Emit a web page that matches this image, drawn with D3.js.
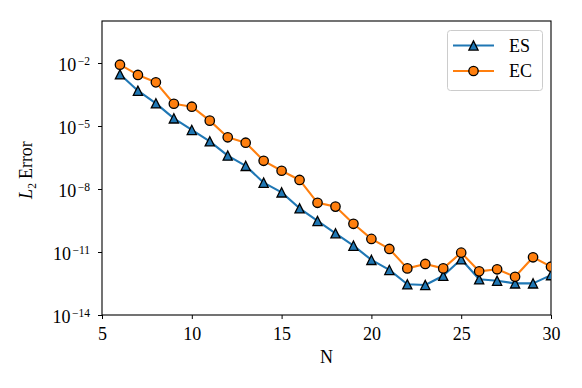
<!DOCTYPE html>
<html>
<head>
<meta charset="utf-8">
<script src="https://cdn.jsdelivr.net/npm/d3@7"></script>
<style>
  html, body { margin: 0; padding: 0; background: #fff; }
  svg { display: block; }
  text { font-family: "Liberation Serif", "DejaVu Serif", serif; fill: #000; }
</style>
</head>
<body>
<div id="chart"></div>
<script>
const N = [6,7,8,9,10,11,12,13,14,15,16,17,18,19,20,21,22,23,24,25,26,27,28,29,30];
const ES = [2.9e-3, 4.8e-4, 1.2e-4, 2.3e-5, 6.5e-6, 1.86e-6, 3.9e-7, 1.26e-7, 2.0e-8, 6.9e-9,
            1.2e-9, 3.0e-10, 7.8e-11, 2.0e-11, 4.2e-12, 1.4e-12, 2.9e-13, 2.7e-13, 7.4e-13, 4.5e-12,
            5.0e-13, 4.3e-13, 3.2e-13, 3.2e-13, 7.9e-13];
const EC = [8.3e-3, 2.7e-3, 1.2e-3, 1.15e-4, 8.3e-5, 1.8e-5, 2.9e-6, 1.6e-6, 2.2e-7, 7.4e-8,
            2.7e-8, 2.2e-9, 1.45e-9, 2.2e-10, 4.2e-11, 1.4e-11, 1.66e-12, 2.7e-12, 1.66e-12, 9.3e-12,
            1.2e-12, 1.5e-12, 6.6e-13, 5.6e-12, 2.0e-12];
const xTicks = [5, 10, 15, 20, 25, 30];
const yTickExps = [-2, -5, -8, -11, -14];
const seriesNames = ["ES", "EC"];
const colors = ["#1f77b4", "#ff7f0e"];

const W = 582, H = 388;
const m = {left: 102, right: 31, top: 21, bottom: 73};
const iw = W - m.left - m.right, ih = H - m.top - m.bottom;
const FS = 18, SFS = 11.5;

const svg = d3.select("#chart").append("svg").attr("width", W).attr("height", H);
const g = svg.append("g").attr("transform", `translate(${m.left},${m.top})`);

const x = d3.scaleLinear().domain([5, 30]).range([0, iw]);
const y = d3.scaleLog().domain([1e-14, 1]).range([ih, 0]);

g.append("clipPath").attr("id", "clip").append("rect").attr("width", iw).attr("height", ih);

// axes
const xAxis = d3.axisBottom(x).tickValues(xTicks).tickSize(4).tickPadding(9).tickFormat(d3.format("d"));
const gx = g.append("g").attr("transform", `translate(0,${ih})`).call(xAxis);
gx.selectAll("text").style("font-size", FS + "px").attr("dy", "0.68em");

const yAxis = d3.axisLeft(y).tickValues(yTickExps.map(e => Math.pow(10, e))).tickSize(4).tickFormat("");
const gy = g.append("g").call(yAxis);
gy.selectAll(".tick").each(function(d) {
  const e = Math.round(Math.log10(d));
  const t = d3.select(this).append("text")
    .attr("x", -12).attr("y", 7)
    .attr("text-anchor", "end").style("font-size", FS + "px");
  t.append("tspan").text("10");
  t.append("tspan").attr("dy", -6).attr("dx", 1.5).style("font-size", SFS + "px").text("\u2212" + Math.abs(e));
});
[gx, gy].forEach(a => { a.select(".domain").remove(); a.selectAll("line").attr("stroke", "#000").attr("stroke-width", 1); });

// frame
g.append("rect").attr("width", iw).attr("height", ih).attr("fill", "none").attr("stroke", "#000").attr("stroke-width", 1.1);

// labels
svg.append("text").attr("x", m.left + iw / 2).attr("y", 363).attr("text-anchor", "middle").style("font-size", FS + "px").text("N");
const yl = svg.append("text").attr("transform", `translate(32,170) rotate(-90)`).attr("text-anchor", "middle").style("font-size", FS + "px");
yl.append("tspan").style("font-style", "italic").text("L");
yl.append("tspan").attr("dy", 3.5).style("font-size", SFS + "px").text("2");
yl.append("tspan").attr("dy", -3.5).attr("dx", 4).text("Error");

// series
const tri = r => `M0,${-r}L${-r},${r}L${r},${r}Z`;
const plot = g.append("g").attr("clip-path", "url(#clip)");
const line = d3.line().x((d, i) => x(N[i])).y(d => y(d));
[ES, EC].forEach((vals, k) => {
  const s = plot.append("g");
  s.append("path").datum(vals).attr("d", line).attr("fill", "none")
    .attr("stroke", colors[k]).attr("stroke-width", 2.1).attr("stroke-linejoin", "round");
  if (k === 0) {
    s.selectAll("path.m").data(vals).join("path").attr("class", "m")
      .attr("transform", (d, i) => `translate(${x(N[i])},${y(d)})`)
      .attr("d", tri(4.6)).attr("fill", colors[k]).attr("stroke", "#000").attr("stroke-width", 1.3).attr("stroke-linejoin", "miter");
  } else {
    s.selectAll("circle").data(vals).join("circle")
      .attr("cx", (d, i) => x(N[i])).attr("cy", d => y(d)).attr("r", 4.7)
      .attr("fill", colors[k]).attr("stroke", "#000").attr("stroke-width", 1.3);
  }
});

// legend
const lg = svg.append("g");
lg.append("rect").attr("x", 447.5).attr("y", 30.5).attr("width", 95).attr("height", 60).attr("rx", 3)
  .attr("fill", "#fff").attr("fill-opacity", 0.8).attr("stroke", "#cccccc").attr("stroke-width", 1);
seriesNames.forEach((nm, k) => {
  const yy = 45.5 + k * 25.5;
  lg.append("line").attr("x1", 453).attr("x2", 494).attr("y1", yy).attr("y2", yy).attr("stroke", colors[k]).attr("stroke-width", 2.1);
  if (k === 0) {
    lg.append("path").attr("transform", `translate(473.5,${yy})`).attr("d", tri(4.6))
      .attr("fill", colors[k]).attr("stroke", "#000").attr("stroke-width", 1.3);
  } else {
    lg.append("circle").attr("cx", 473.5).attr("cy", yy).attr("r", 4.7)
      .attr("fill", colors[k]).attr("stroke", "#000").attr("stroke-width", 1.3);
  }
  lg.append("text").attr("x", 509).attr("y", yy).attr("dy", "0.34em").style("font-size", FS + "px").text(nm);
});
</script>
</body>
</html>
